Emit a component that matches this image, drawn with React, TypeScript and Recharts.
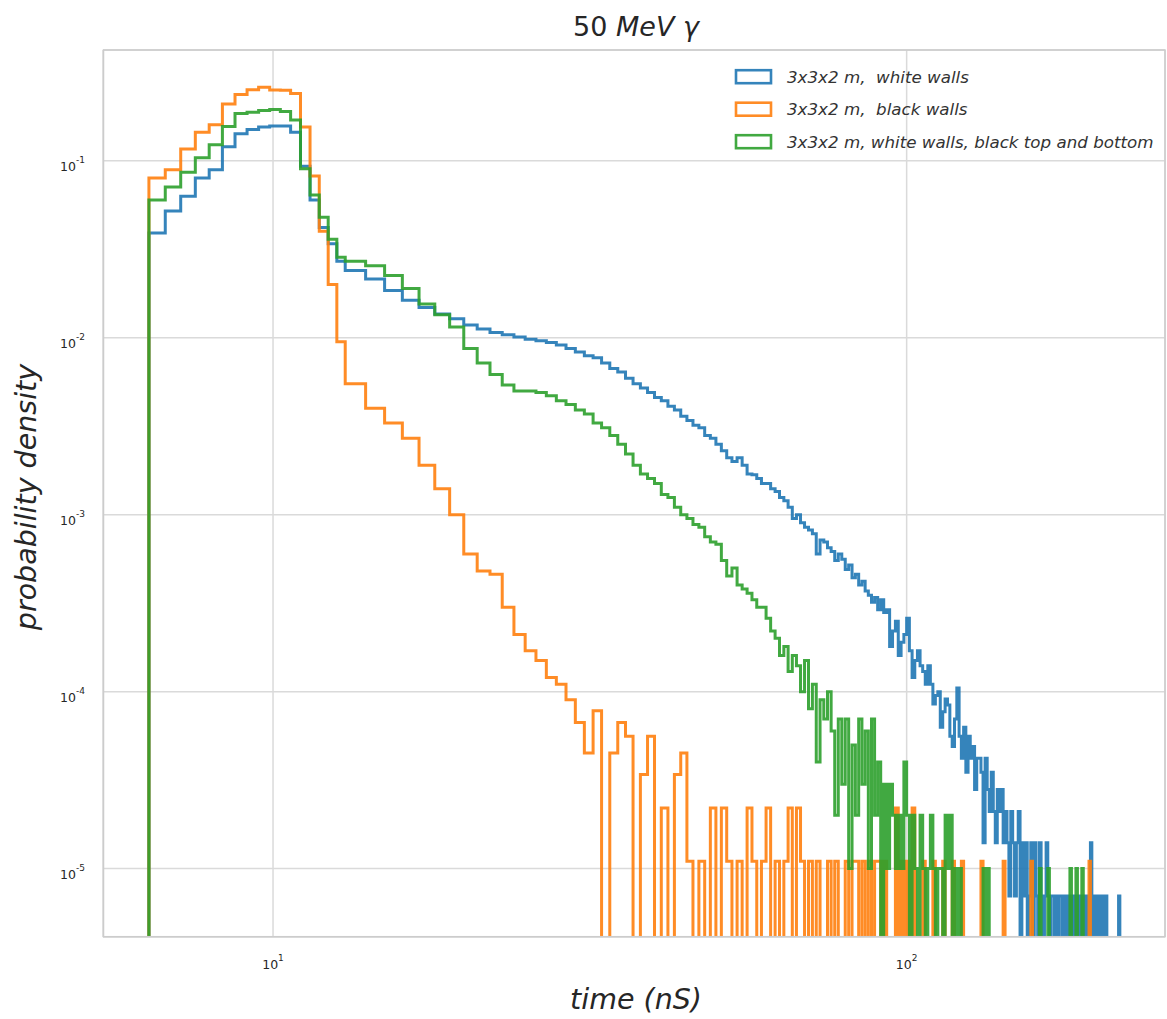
import { LineChart, Line, XAxis, YAxis, CartesianGrid } from 'recharts';

// histogram bin edges (ns); fine near the peak, 1 ns afterwards
const binEdges = [
  6.37, 6.76, 7.15, 7.54, 7.93, 8.32, 8.71, 9.1, 9.49, 9.88, 10.27, 10.66, 11.05, 11.44, 11.83, 12.22, 12.61, 13,
  14, 15, 16, 17, 18, 19, 20, 21, 22, 23, 24, 25, 26, 27, 28, 29, 30, 31, 32, 33, 34, 35, 36, 37, 38, 39, 40,
  41, 42, 43, 44, 45, 46, 47, 48, 49, 50, 51, 52, 53, 54, 55, 56, 57, 58, 59, 60,
  61, 62, 63, 64, 65, 66, 67, 68, 69, 70,
  71, 72, 73, 74, 75, 76, 77, 78, 79, 80,
  81, 82, 83, 84, 85, 86, 87, 88, 89, 90,
  91, 92, 93, 94, 95, 96, 97, 98, 99, 100,
  101, 102, 103, 104, 105, 106, 107, 108, 109, 110,
  111, 112, 113, 114, 115, 116, 117, 118, 119, 120,
  121, 122, 123, 124, 125, 126, 127, 128, 129, 130,
  131, 132, 133, 134, 135, 136, 137, 138, 139, 140,
  141, 142, 143, 144, 145, 146, 147, 148, 149, 150,
  151, 152, 153, 154, 155, 156, 157, 158, 159, 160,
  161, 162, 163, 164, 165, 166, 167, 168, 169, 170,
  171, 172, 173, 174, 175, 176, 177, 178, 179, 180,
  181, 182, 183, 184, 185, 186, 187, 188, 189, 190,
  191, 192, 193, 194, 195, 196, 197, 198, 199, 200,
  201, 202, 203, 204, 205, 206, 207, 208, 209, 210,
  211, 212, 213, 214, 215, 216, 217, 218, 219, 220,
  221, 222, 223, 224,
];

const whiteWalls = [
  0.039, 0.052, 0.063, 0.08, 0.089, 0.12, 0.142, 0.15, 0.155, 0.157, 0.157, 0.145, 0.093, 0.06, 0.042, 0.034, 0.027,
  0.024, 0.0215, 0.0185, 0.0163, 0.0148, 0.0136, 0.0128, 0.0118, 0.0112, 0.0107, 0.0104, 0.0101, 0.0098, 0.0096,
  0.0094, 0.0091, 0.0087, 0.0083, 0.0079, 0.0077, 0.0072, 0.0067, 0.0064, 0.0059, 0.0055, 0.0052, 0.0049, 0.0046,
  0.0044, 0.0041, 0.0039, 0.0036, 0.0034, 0.0032, 0.0031, 0.0028, 0.0027, 0.0025, 0.0023, 0.0021, 0.002, 0.0021,
  0.0019, 0.0017, 0.00168, 0.0016, 0.0015,
  1.5e-3, 1.4e-3, 1.35e-3, 1.25e-3, 1.2e-3, 1.1e-3, 9.5e-4, 1.0e-3, 9.0e-4, 8.5e-4,
  8.2e-4, 7.8e-4, 6.0e-4, 7.2e-4, 7.0e-4, 6.5e-4, 6.2e-4, 5.5e-4, 6.0e-4, 5.6e-4,
  4.9e-4, 5.2e-4, 4.4e-4, 4.6e-4, 4.0e-4, 4.2e-4, 3.7e-4, 3.5e-4, 3.2e-4, 3.4e-4,
  2.9e-4, 3.3e-4, 2.8e-4, 2.9e-4, 1.8e-4, 2.2e-4, 2.5e-4, 1.6e-4, 1.9e-4, 2.1e-4,
  2.6e-4, 1.7e-4, 1.2e-4, 1.5e-4, 1.7e-4, 1.4e-4, 1.3e-4, 1.1e-4, 1.4e-4, 1.1e-4,
  8.5e-5, 9.5e-5, 1.0e-4, 6.3e-5, 7.7e-5, 9.1e-5, 8.4e-5, 5.6e-5, 4.9e-5, 7.0e-5,
  1.05e-4, 5.6e-5, 4.2e-5, 6.3e-5, 3.5e-5, 5.6e-5, 4.2e-5, 4.9e-5, 2.8e-5, 4.2e-5,
  4.2e-5, 3.5e-5, 1.4e-5, 4.2e-5, 2.8e-5, 2.1e-5, 3.5e-5, 2.1e-5, 1.4e-5, 2.8e-5,
  2.1e-5, 2.8e-5, 1.4e-5, 2.1e-5, 1.4e-5, 7e-6, 2.1e-5, 1.4e-5, 7e-6, 1.4e-5,
  2.1e-5, 0, 1.4e-5, 7e-6, 1.4e-5, 0, 7e-6, 1.4e-5, 0, 1.4e-5,
  7e-6, 0, 1.4e-5, 7e-6, 0, 7e-6, 1.4e-5, 7e-6, 0, 7e-6,
  7e-6, 0, 7e-6, 0, 7e-6, 7e-6, 0, 7e-6, 0, 7e-6,
  0, 7e-6, 7e-6, 0, 7e-6, 0, 7e-6, 0, 7e-6, 0,
  7e-6, 0, 7e-6, 0, 7e-6, 1.4e-5, 0, 7e-6, 0, 7e-6,
  0, 7e-6, 0, 7e-6, 7e-6, 0, 7e-6, 0, 0, 0,
  0, 0, 0, 0, 0, 0, 7e-6, 0, 0, 0,
  0, 0, 0, 0,
];

const blackWalls = [
  0.08, 0.089, 0.1165, 0.145, 0.16, 0.209, 0.237, 0.252, 0.26, 0.251, 0.25, 0.24, 0.155, 0.082, 0.04, 0.02, 0.0095,
  0.0055, 0.004, 0.0033, 0.0027, 0.0019, 0.0014, 0.001, 0.0006, 0.00048, 0.00046, 0.0003, 0.00021, 0.00017,
  0.00015, 0.00012, 0.00011,
  9e-5, 6.7e-5, 4.5e-5, 7.8e-5, 0, 4.5e-5, 6.7e-5, 5.6e-5, 0, 3.4e-5, 5.6e-5, 0, 2.2e-5, 0, 3.4e-5, 4.5e-5,
  1.1e-5, 0, 1.1e-5, 0, 2.2e-5, 0, 2.2e-5, 1.1e-5, 0, 1.1e-5, 0, 2.2e-5, 1.1e-5, 0, 1.1e-5,
  2.2e-5, 0, 1.1e-5, 0, 1.1e-5, 2.2e-5, 0, 2.2e-5, 1.1e-5, 0,
  1.1e-5, 0, 1.1e-5, 0, 0, 1.1e-5, 0, 1.1e-5, 0, 0,
  1.1e-5, 0, 1.1e-5, 1.1e-5, 0, 1.1e-5, 0, 1.1e-5, 0, 1.1e-5,
  1.1e-5, 0, 1.1e-5, 0, 0, 0, 2.2e-5, 0, 1.1e-5, 0,
  1.1e-5, 0, 2.2e-5, 0, 0, 0, 1.1e-5, 0, 0, 0,
  1.1e-5, 0, 0, 0, 1.1e-5, 0, 0, 0, 1.1e-5, 0,
  0, 0, 1.1e-5, 0, 0, 0, 0, 0, 0, 0,
  0, 1.1e-5, 0, 0, 0, 0, 0, 0, 0, 0,
  0, 0, 1.1e-5, 0, 0, 0, 0, 0, 0, 0,
  0, 0, 0, 0, 0, 0, 0, 1.1e-5, 0, 0,
  0, 0, 0, 0, 0, 0, 0, 0, 0, 0,
  0, 0, 0, 0, 0, 0, 0, 0, 0, 0,
  0, 0, 0, 0, 0, 0, 0, 0, 0, 0,
  0, 0, 0, 0, 1.1e-5, 0, 0, 0, 0, 0,
  0, 0, 0, 0, 0, 0, 0, 0, 0, 0,
  0, 0, 0, 0, 0, 0, 0, 0, 0, 0,
  0, 0, 0, 0,
];

const blackTopBottom = [
  0.06, 0.071, 0.086, 0.104, 0.123, 0.156, 0.185, 0.188, 0.192, 0.195, 0.19, 0.17, 0.09, 0.064, 0.048, 0.036, 0.0285,
  0.027, 0.0255, 0.0225, 0.019, 0.0155, 0.0135, 0.0115, 0.0087, 0.0072, 0.0062, 0.0054, 0.005, 0.005, 0.0049,
  0.0047, 0.0044, 0.0042, 0.0039, 0.0037, 0.0033, 0.0031, 0.0028, 0.0025, 0.0022, 0.0019, 0.0017, 0.0016, 0.0015,
  0.0013, 0.00125, 0.0011, 0.001, 0.00095, 0.00088, 0.00085, 0.00075, 0.0007, 0.00068, 0.00055, 0.00045, 0.0005,
  0.0004, 0.00038, 0.00036, 0.00033, 0.0003, 0.0003,
  2.6e-4, 2.2e-4, 2.0e-4, 1.6e-4, 1.8e-4, 1.3e-4, 1.6e-4, 1.4e-4, 1.0e-4, 1.5e-4,
  8e-5, 1.1e-4, 4e-5, 9e-5, 7e-5, 1.0e-4, 6e-5, 2e-5, 7e-5, 3e-5,
  7e-5, 1e-5, 5e-5, 2e-5, 7e-5, 3e-5, 6e-5, 1e-5, 7e-5, 2e-5,
  4e-5, 0, 3e-5, 1e-5, 3e-5, 2e-5, 1e-5, 2e-5, 1e-5, 4e-5,
  2e-5, 0, 2e-5, 1e-5, 0, 2e-5, 1e-5, 0, 1e-5, 2e-5,
  1e-5, 0, 1e-5, 1e-5, 0, 2e-5, 1e-5, 2e-5, 0, 1e-5,
  0, 1e-5, 0, 0, 0, 0, 0, 0, 0, 0,
  0, 0, 1e-5, 0, 1e-5, 0, 0, 0, 0, 0,
  0, 0, 0, 0, 0, 0, 0, 0, 0, 0,
  0, 0, 0, 0, 0, 0, 0, 0, 0, 0,
  0, 0, 1e-5, 0, 0, 0, 0, 1e-5, 0, 0,
  0, 0, 0, 0, 0, 0, 0, 0, 0, 0,
  0, 1e-5, 0, 0, 0, 1e-5, 0, 0, 0, 1e-5,
  0, 0, 0, 0, 0, 0, 0, 0, 0, 0,
  0, 0, 0, 0, 0, 0, 0, 0, 0, 0,
  0, 0, 0, 0, 0, 0, 0, 0, 0, 0,
  0, 0, 0, 0,
];

const seriesNames = ['3x3x2 m,  white walls', '3x3x2 m,  black walls', '3x3x2 m, white walls, black top and bottom'];
const seriesColors = ['#1f77b4', '#ff7f0e', '#2ca02c'];
const xTicks = [10, 100];
const yTicks = [1e-5, 1e-4, 1e-3, 1e-2, 1e-1];

const FLOOR = 1e-7; // empty bins go below the visible range and get clipped
const FONT = 'DejaVu Sans, sans-serif';
const TEXT = '#262626';

function toSteps(values: number[]) {
  const pts = [{ t: binEdges[0], v: FLOOR }];
  values.forEach((v, i) => pts.push({ t: binEdges[i], v: v > 0 ? v : FLOOR }));
  pts.push({ t: binEdges[values.length], v: FLOOR });
  return pts;
}

const series = [whiteWalls, blackWalls, blackTopBottom].map(toSteps);

const XTick = ({ x, y, payload }: any) => (
  <text x={x} y={y + 32} textAnchor="middle" fontFamily={FONT} fontSize={12.5} fill={TEXT}>
    10<tspan fontSize={9} dy={-8}>{Math.round(Math.log10(payload.value))}</tspan>
  </text>
);

const YTick = ({ x, y, payload }: any) => {
  const e = Math.round(Math.log10(payload.value));
  return (
    <text x={x - 18} y={y + 10} textAnchor="end" fontFamily={FONT} fontSize={12.5} fill={TEXT}>
      10<tspan fontSize={9} dy={-8}>{e < 0 ? `-${-e}` : e}</tspan>
    </text>
  );
};

export default function App() {
  return (
    <div style={{ position: 'absolute', left: 0, top: 0, width: 1167, height: 1019, background: '#fff' }}>
      <LineChart width={1167} height={1019} margin={{ top: 50, right: 2, bottom: 42, left: 0 }}>
        <CartesianGrid stroke="#dadada" strokeWidth={1.5} />
        <XAxis
          type="number"
          dataKey="t"
          scale="log"
          domain={[5.391, 255.7]}
          allowDataOverflow
          ticks={xTicks}
          interval={0}
          tick={<XTick />}
          tickLine={false}
          axisLine={false}
          tickSize={0}
          tickMargin={0}
          height={40}
        />
        <YAxis
          type="number"
          scale="log"
          domain={[4.106e-6, 0.4225]}
          allowDataOverflow
          ticks={yTicks}
          interval={0}
          tick={<YTick />}
          tickLine={false}
          axisLine={false}
          tickSize={0}
          tickMargin={0}
          width={103}
        />
        {series.map((pts, i) => (
          <Line
            key={seriesNames[i]}
            data={pts}
            dataKey="v"
            type="stepAfter"
            stroke={seriesColors[i]}
            strokeOpacity={0.9}
            strokeWidth={3}
            dot={false}
            activeDot={false}
            isAnimationActive={false}
          />
        ))}
      </LineChart>
      <svg
        width={1167}
        height={1019}
        style={{ position: 'absolute', left: 0, top: 0, pointerEvents: 'none' }}
        fontFamily={FONT}
      >
        <rect x={103.5} y={50} width={1061.5} height={886.7} fill="none" stroke="#cccccc" strokeWidth={1.5} />
        <text x={636} y={36} textAnchor="middle" fontSize={27} fill={TEXT}>
          50 <tspan fontStyle="italic">MeV γ</tspan>
        </text>
        <text x={636} y={1009} textAnchor="middle" fontSize={28.5} fontStyle="italic" fill={TEXT}>
          time (nS)
        </text>
        <text
          x={36}
          y={497}
          textAnchor="middle"
          fontSize={28.5}
          fontStyle="italic"
          fill={TEXT}
          transform="rotate(-90 36 497)"
        >
          probability density
        </text>
        {seriesNames.map((name, i) => (
          <g key={name}>
            <rect
              x={736}
              y={70.2 + i * 32.5}
              width={35}
              height={13}
              fill="none"
              stroke={seriesColors[i]}
              strokeOpacity={0.9}
              strokeWidth={2.6}
            />
            <text x={787} y={82.5 + i * 32.5} fontSize={16.7} fontStyle="italic" fill="#333" style={{ whiteSpace: 'pre' }}>
              {name}
            </text>
          </g>
        ))}
      </svg>
    </div>
  );
}
